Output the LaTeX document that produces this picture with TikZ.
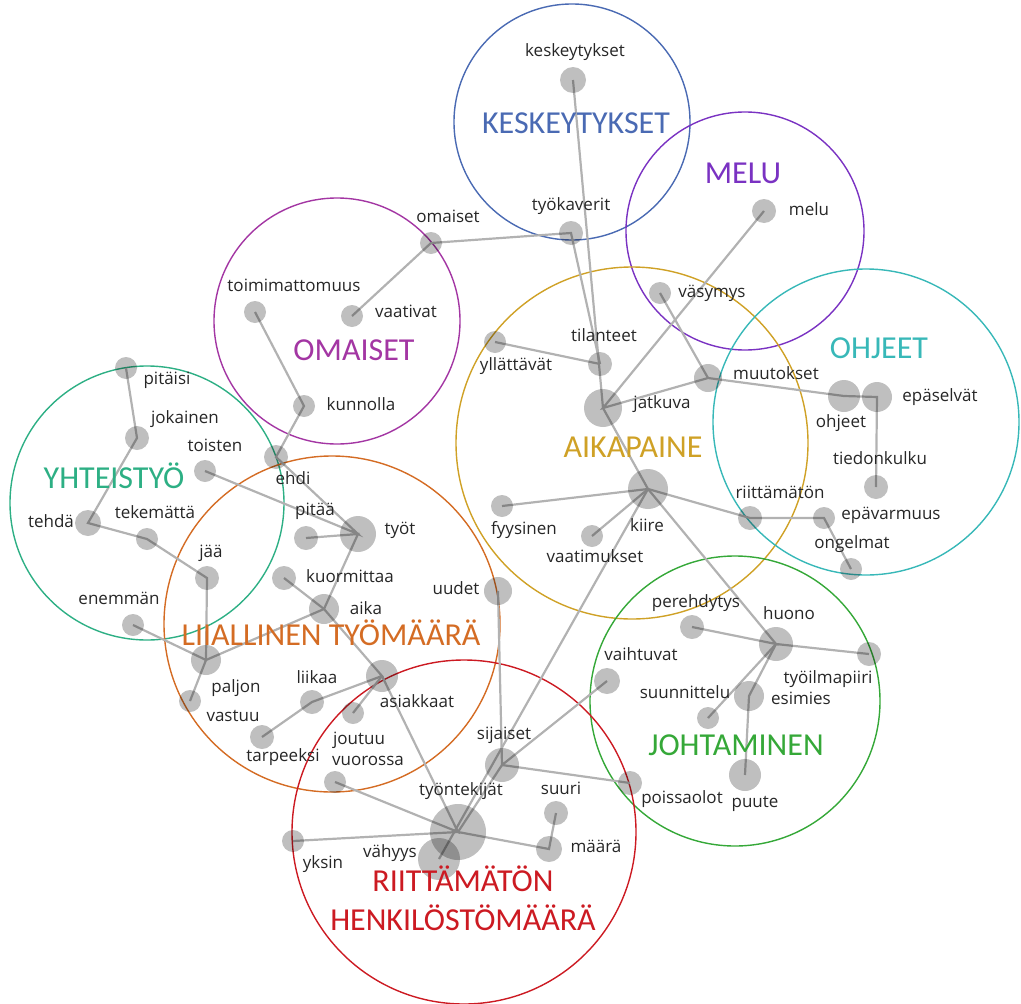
\documentclass[tikz,border=0pt]{standalone}
\usepackage{fontspec}
\usetikzlibrary{backgrounds}
\newfontfamily\wordfont{Open Sans}
\newfontfamily\themefont{Carlito}
\definecolor{keskcol}{HTML}{4A6AB3}
\definecolor{melucol}{HTML}{7A32C2}
\definecolor{omaicol}{HTML}{A336A3}
\definecolor{yhtecol}{HTML}{2DAF84}
\definecolor{liiacol}{HTML}{D46C24}
\definecolor{aikacol}{HTML}{CFA126}
\definecolor{ohjecol}{HTML}{38B8B8}
\definecolor{johtcol}{HTML}{35A838}
\definecolor{riitcol}{HTML}{CC1A22}

\begin{document}
\begin{tikzpicture}[x=1pt, y=-1pt, line cap=round, line join=round,
  dot/.style={circle, fill=black, fill opacity=0.25, inner sep=0pt, minimum size=#1},
  dot/.default=22,
  word/.style={font=\wordfont\fontsize{17}{20}\selectfont, text=black!85, inner sep=0pt, text height=12pt, text depth=4pt},
  theme/.style={font=\themefont\fontsize{32}{39}\selectfont, inner sep=0pt, anchor=base, align=center},
  link/.style={draw=black!30, line width=2.2pt},
  ring/.style={line width=1.4pt}]

\useasboundingbox (0,0) rectangle (1021,1004);

% word discs
\node[dot=26] (keskeytykset) at (573,80) {};
\node[dot=24] (tyokaverit) at (571,233) {};
\node[dot] (omaiset) at (431,243) {};
\node[dot] (vaativat) at (352,316) {};
\node[dot] (toimimattomuus) at (255,312) {};
\node[dot] (kunnolla) at (304,406) {};
\node[dot=24] (ehdi) at (276,457) {};
\node[dot=24] (melu) at (764,211) {};
\node[dot] (vasymys) at (660,293) {};
\node[dot=24] (tilanteet) at (600,364) {};
\node[dot] (yllattavat) at (495,342) {};
\node[dot=38] (jatkuva) at (603,408) {};
\node[dot=28] (muutokset) at (708,378) {};
\node[dot=32] (ohjeet) at (844,396) {};
\node[dot=30] (epaselvat) at (877,397) {};
\node[dot=24] (tiedonkulku) at (876,487) {};
\node[dot=40] (kiire) at (648,489) {};
\node[dot] (fyysinen) at (502,506) {};
\node[dot] (vaatimukset) at (592,536) {};
\node[dot=24] (riittamaton) at (750,518) {};
\node[dot] (epavarmuus) at (824,518) {};
\node[dot] (ongelmat) at (851,569) {};
\node[dot=24] (perehdytys) at (692,627) {};
\node[dot=34] (huono) at (776,644) {};
\node[dot=24] (tyoilmapiiri) at (869,654) {};
\node[dot=26] (vaihtuvat) at (607,681) {};
\node[dot] (suunnittelu) at (708,718) {};
\node[dot=30] (esimies) at (749,696) {};
\node[dot=32] (puute) at (745,775) {};
\node[dot=24] (poissaolot) at (630,783) {};
\node[dot=34] (sijaiset) at (502,765) {};
\node[dot=28] (uudet) at (498,591) {};
\node[dot=24] (suuri) at (556,813) {};
\node[dot=26] (maara) at (549,849) {};
\node[dot=56] (tyontekijat) at (458,832) {};
\node[dot=42] (vahyys) at (439,859) {};
\node[dot] (yksin) at (293,841) {};
\node[dot] (vuorossa) at (335,782) {};
\node[dot] (joutuu) at (353,713) {};
\node[dot=32] (asiakkaat) at (382,676) {};
\node[dot=24] (liikaa) at (312,702) {};
\node[dot=24] (tarpeeksi) at (262,737) {};
\node[dot=30] (aika) at (324,609) {};
\node[dot=24] (kuormittaa) at (284,578) {};
\node[dot=36] (tyot) at (358,534) {};
\node[dot=24] (pitaa) at (306,538) {};
\node[dot] (toisten) at (205,471) {};
\node[dot=30] (paljon) at (206,660) {};
\node[dot] (vastuu) at (190,701) {};
\node[dot] (enemman) at (133,625) {};
\node[dot=24] (jaa) at (207,578) {};
\node[dot] (tekematta) at (147,539) {};
\node[dot=26] (tehda) at (88,523) {};
\node[dot=24] (jokainen) at (137,438) {};
\node[dot] (pitaisi) at (126,368) {};

\begin{scope}[on background layer]
% theme circles
\draw[ring, keskcol] (572,122) circle[radius=118pt];
\draw[ring, melucol] (745,231) circle[radius=119pt];
\draw[ring, omaicol] (337,321) circle[radius=123pt];
\draw[ring, yhtecol] (147,503) circle[radius=137pt];
\draw[ring, liiacol] (332,624) circle[radius=168pt];
\draw[ring, aikacol] (632,443) circle[radius=176pt];
\draw[ring, ohjecol] (866,422) circle[radius=153pt];
\draw[ring, johtcol] (735,701) circle[radius=145pt];
\draw[ring, riitcol] (464,832) circle[radius=172pt];

% links
\draw[link] (keskeytykset.center) -- (jatkuva.center);
\draw[link] (tilanteet.center) -- (tyokaverit.center) -- (omaiset.center) -- (vaativat.center);
\draw[link] (yllattavat.center) -- (tilanteet.center);
\draw[link] (melu.center) -- (jatkuva.center) -- (muutokset.center) -- (ohjeet.center) -- (epaselvat.center) -- (tiedonkulku.center);
\draw[link] (vasymys.center) -- (muutokset.center);
\draw[link] (jatkuva.center) -- (kiire.center) -- (fyysinen.center);
\draw[link] (kiire.center) -- (vaatimukset.center);
\draw[link] (kiire.center) -- (riittamaton.center) -- (epavarmuus.center) -- (ongelmat.center);
\draw[link] (kiire.center) -- (huono.center) -- (perehdytys.center);
\draw[link] (huono.center) -- (tyoilmapiiri.center);
\draw[link] (huono.center) -- (suunnittelu.center);
\draw[link] (huono.center) -- (esimies.center) -- (puute.center);
\draw[link] (kiire.center) -- (vahyys.center);
\draw[link] (uudet.center) -- (sijaiset.center) -- (vaihtuvat.center);
\draw[link] (poissaolot.center) -- (sijaiset.center) -- (tyontekijat.center);
\draw[link] (suuri.center) -- (maara.center) -- (tyontekijat.center) -- (yksin.center);
\draw[link] (vuorossa.center) -- (tyontekijat.center) -- (asiakkaat.center);
\draw[link] (kuormittaa.center) -- (aika.center) -- (asiakkaat.center) -- (liikaa.center) -- (tarpeeksi.center);
\draw[link] (asiakkaat.center) -- (joutuu.center);
\draw[link] (paljon.center) -- (aika.center) -- (tyot.center) -- (pitaa.center);
\draw[link] (toisten.center) -- (tyot.center) -- (ehdi.center) -- (kunnolla.center) -- (toimimattomuus.center);
\draw[link] (pitaisi.center) -- (jokainen.center) -- (tehda.center) -- (tekematta.center) -- (jaa.center) -- (paljon.center);
\draw[link] (enemman.center) -- (paljon.center) -- (vastuu.center);
\end{scope}

% theme labels
\node[theme, text=keskcol] (t-kesk) at (576,133) {KESKEYTYKSET};
\node[theme, text=melucol] (t-melu) at (743,183) {MELU};
\node[theme, text=omaicol] (t-omai) at (354,360) {OMAISET};
\node[theme, text=yhtecol] (t-yhte) at (114,488) {YHTEISTYÖ};
\node[theme, text=aikacol] (t-aika) at (633,457) {AIKAPAINE};
\node[theme, text=ohjecol] (t-ohje) at (879,358) {OHJEET};
\node[theme, text=liiacol] (t-liia) at (331,645) {LIIALLINEN TYÖMÄÄRÄ};
\node[theme, text=johtcol] (t-joht) at (736,755) {JOHTAMINEN};
\node[theme, text=riitcol] (t-riit) at (463,930) {RIITTÄMÄTÖN\\HENKILÖSTÖMÄÄRÄ};

% word labels
\node[word] (l-keskeytykset) at (575,52) {keskeytykset};
\node[word] (l-tyokaverit) at (571,206) {työkaverit};
\node[word] (l-omaiset) at (448,218) {omaiset};
\node[word] (l-vaativat) at (406,313) {vaativat};
\node[word] (l-toimimattomuus) at (294,287) {toimimattomuus};
\node[word] (l-kunnolla) at (361,406) {kunnolla};
\node[word] (l-ehdi) at (293,480) {ehdi};
\node[word] (l-melu) at (809,211) {melu};
\node[word] (l-vasymys) at (712,293) {väsymys};
\node[word] (l-tilanteet) at (604,337) {tilanteet};
\node[word] (l-yllattavat) at (516,366) {yllättävät};
\node[word] (l-jatkuva) at (662,404) {jatkuva};
\node[word] (l-muutokset) at (776,375) {muutokset};
\node[word] (l-ohjeet) at (841,423) {ohjeet};
\node[word] (l-epaselvat) at (940,397) {epäselvät};
\node[word] (l-tiedonkulku) at (880,460) {tiedonkulku};
\node[word] (l-kiire) at (647,527) {kiire};
\node[word] (l-fyysinen) at (524,530) {fyysinen};
\node[word] (l-vaatimukset) at (595,558) {vaatimukset};
\node[word] (l-riittamaton) at (780,494) {riittämätön};
\node[word] (l-epavarmuus) at (891,515) {epävarmuus};
\node[word] (l-ongelmat) at (852,544) {ongelmat};
\node[word] (l-perehdytys) at (696,603) {perehdytys};
\node[word] (l-huono) at (789,615) {huono};
\node[word] (l-tyoilmapiiri) at (828,679) {työilmapiiri};
\node[word] (l-vaihtuvat) at (641,656) {vaihtuvat};
\node[word] (l-suunnittelu) at (685,694) {suunnittelu};
\node[word] (l-esimies) at (801,700) {esimies};
\node[word] (l-puute) at (755,803) {puute};
\node[word] (l-poissaolot) at (682,799) {poissaolot};
\node[word] (l-sijaiset) at (504,735) {sijaiset};
\node[word] (l-uudet) at (456,590) {uudet};
\node[word] (l-suuri) at (561,790) {suuri};
\node[word] (l-maara) at (596,848) {määrä};
\node[word] (l-tyontekijat) at (461,791) {työntekijät};
\node[word] (l-vahyys) at (390,853) {vähyys};
\node[word] (l-yksin) at (323,864) {yksin};
\node[word] (l-vuorossa) at (368,761) {vuorossa};
\node[word] (l-joutuu) at (359,740) {joutuu};
\node[word] (l-asiakkaat) at (417,703) {asiakkaat};
\node[word] (l-liikaa) at (317,679) {liikaa};
\node[word] (l-tarpeeksi) at (283,757) {tarpeeksi};
\node[word] (l-aika) at (366,610) {aika};
\node[word] (l-kuormittaa) at (350,578) {kuormittaa};
\node[word] (l-tyot) at (400,530) {työt};
\node[word] (l-pitaa) at (315,511) {pitää};
\node[word] (l-toisten) at (215,447) {toisten};
\node[word] (l-paljon) at (236,688) {paljon};
\node[word] (l-vastuu) at (233,717) {vastuu};
\node[word] (l-enemman) at (119,600) {enemmän};
\node[word] (l-jaa) at (211,553) {jää};
\node[word] (l-tekematta) at (155,514) {tekemättä};
\node[word] (l-tehda) at (51,523) {tehdä};
\node[word] (l-jokainen) at (185,419) {jokainen};
\node[word] (l-pitaisi) at (167,380) {pitäisi};

\end{tikzpicture}
\end{document}
